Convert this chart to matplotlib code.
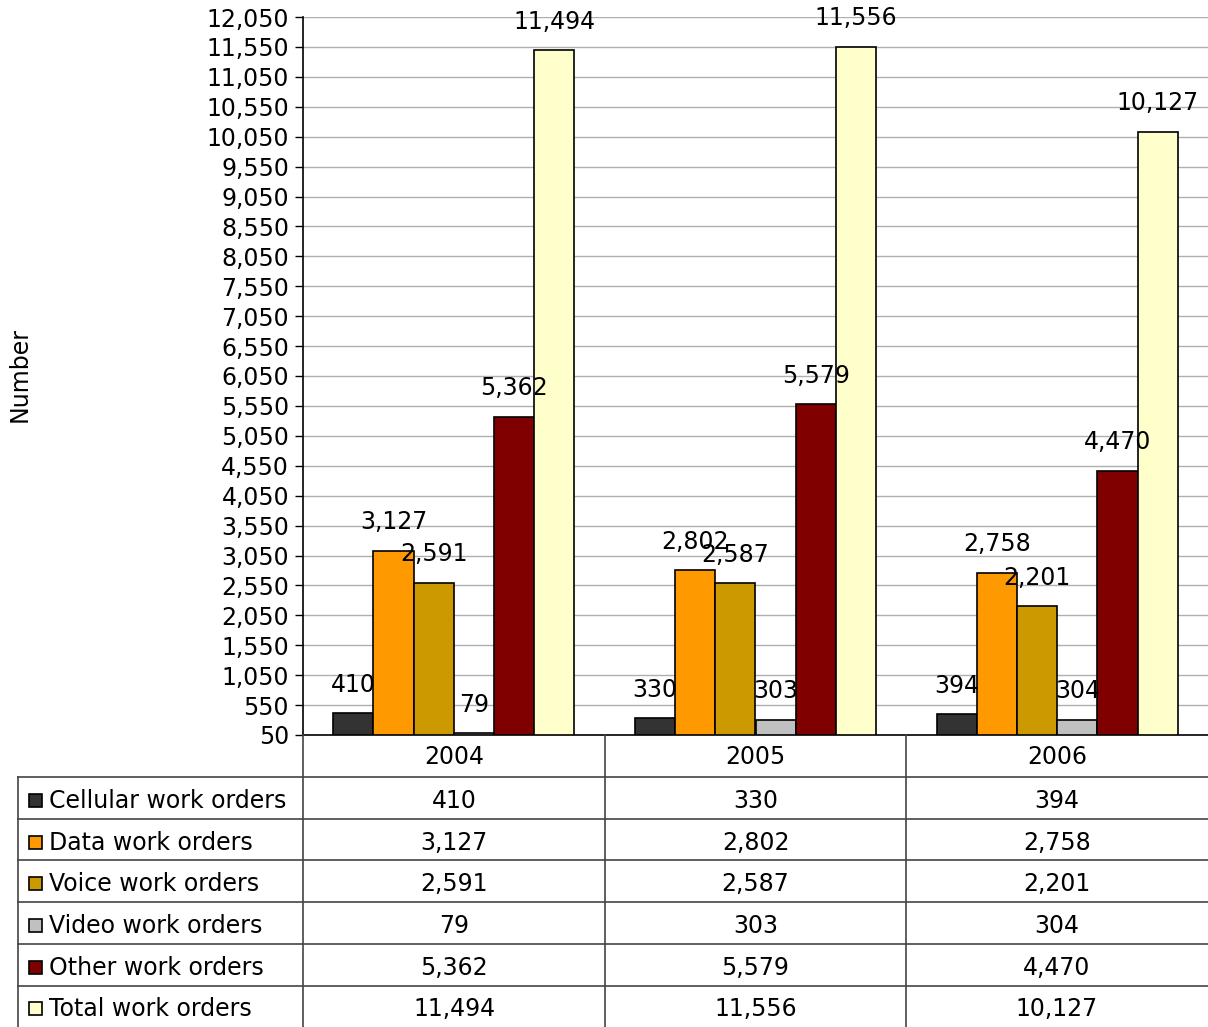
import matplotlib.pyplot as plt
import numpy as np

years = ['2004', '2005', '2006']
series = ['Cellular work orders', 'Data work orders', 'Voice work orders',
          'Video work orders', 'Other work orders', 'Total work orders']
cellular = [410, 330, 394]
data_wo = [3127, 2802, 2758]
voice = [2591, 2587, 2201]
video = [79, 303, 304]
other = [5362, 5579, 4470]
total = [11494, 11556, 10127]
values = [cellular, data_wo, voice, video, other, total]
colors = ['#333333', '#FF9900', '#CC9900', '#C0C0C0', '#800000', '#FFFFCC']

W, H = 1208, 1027
fig = plt.figure(figsize=(W / 100, H / 100), dpi=100)
fs = 17

# main chart
ax = fig.add_axes([303 / W, (H - 735) / H, 905 / W, 718 / H])
x = np.arange(len(years))
bw = 0.8 / len(series)
for i, (name, vals) in enumerate(zip(series, values)):
    pos = x - 0.4 + bw * (i + 0.5)
    ax.bar(pos, np.array(vals) - 50, bottom=50, width=bw, color=colors[i],
           edgecolor='black', linewidth=1.2, zorder=3)
    for px, v in zip(pos, vals):
        ax.annotate(f"{v:,}", xy=(px, v), xytext=(0, 12), textcoords='offset points',
                    ha='center', va='bottom', fontsize=fs, zorder=4)

ax.set_xlim(-0.5, 2.5)
ax.set_ylim(50, 12050)
ax.set_yticks(np.arange(50, 12051, 500))
ax.set_yticklabels([f"{t:,}" for t in np.arange(50, 12051, 500)], fontsize=fs)
ax.set_xticks([])
ax.grid(axis='y', color='#b0b0b0', linewidth=1, zorder=0)
for s in ['top', 'right']:
    ax.spines[s].set_visible(False)
ax.spines['left'].set_linewidth(1.2)
ax.spines['bottom'].set_linewidth(1.2)
ax.tick_params(axis='y', length=6, width=1, pad=4)

fig.text(20 / W, 1 - 375 / H, 'Number', rotation=90, ha='center', va='center', fontsize=fs)

# data table below the chart
tb = fig.add_axes([0, 0, 1, 1])
tb.set_xlim(0, W)
tb.set_ylim(H, 0)
tb.axis('off')
col_edges = [303, 605, 906, 1208]
top = 735
head_h = 42
row_h = 41.7
rows_top = top + head_h
lc = '#444444'
for cx in col_edges[:-1]:
    tb.plot([cx, cx], [top, H], color=lc, lw=1.2)
tb.plot([18, 18], [rows_top, H], color=lc, lw=1.2)
for r in range(len(series)):
    yl = rows_top + r * row_h
    tb.plot([18, W], [yl, yl], color=lc, lw=1.2)
for j, yr in enumerate(years):
    cx = (col_edges[j] + col_edges[j + 1]) / 2
    tb.text(cx, top + head_h / 2 + 1, yr, ha='center', va='center', fontsize=fs)
for r, (name, vals) in enumerate(zip(series, values)):
    yc = rows_top + (r + 0.5) * row_h + 3
    tb.add_patch(plt.Rectangle((29, yc - 7), 13, 13, facecolor=colors[r],
                               edgecolor='black', lw=1.2))
    tb.text(49, yc, name, ha='left', va='center', fontsize=fs)
    for j, v in enumerate(vals):
        cx = (col_edges[j] + col_edges[j + 1]) / 2
        tb.text(cx, yc, f"{v:,}", ha='center', va='center', fontsize=fs)

fig.savefig('out.png', dpi=100)
